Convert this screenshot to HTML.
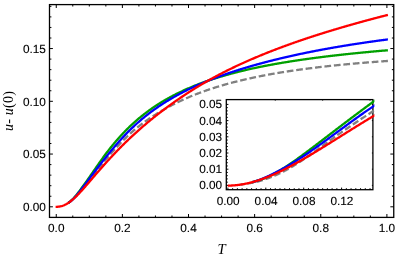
<!DOCTYPE html>
<html><head><meta charset="utf-8"><title>plot</title>
<style>html,body{margin:0;padding:0;background:#fff;}body{width:399px;height:258px;position:relative;overflow:hidden;font-family:"Liberation Sans",sans-serif;}</style>
</head><body>
<svg width="399" height="258" viewBox="0 0 399 258" style="position:absolute;left:0;top:0;will-change:transform">
<rect x="0" y="0" width="399" height="258" fill="#fff"/>
<defs><clipPath id="cm"><rect x="49.5" y="4.6" width="344.25" height="212.8"/></clipPath><clipPath id="ci"><rect x="226.3" y="99.6" width="146.59999999999997" height="90.1"/></clipPath></defs>
<g clip-path="url(#cm)" fill="none" stroke-width="2.3" stroke-linejoin="round">
<path d="M387.90,60.94 L387.35,60.98 L386.79,61.01 L386.24,61.05 L385.68,61.09 L385.13,61.13 L384.57,61.17 L384.02,61.21 L383.46,61.25 L382.91,61.29 L382.35,61.33 L381.80,61.37 L381.24,61.41 L380.69,61.45 L380.13,61.49 L379.58,61.53 L379.02,61.57 L378.47,61.61 L377.91,61.65 L377.36,61.70 L376.80,61.74 L376.25,61.78 L375.70,61.82 L375.14,61.86 L374.59,61.90 L374.03,61.95 L373.48,61.99 L372.92,62.03 L372.37,62.08 L371.81,62.12 L371.26,62.16 L370.70,62.20 L370.15,62.25 L369.59,62.29 L369.04,62.34 L368.48,62.38 L367.93,62.42 L367.37,62.47 L366.82,62.51 L366.26,62.56 L365.71,62.60 L365.15,62.65 L364.60,62.69 L364.05,62.74 L363.49,62.79 L362.94,62.83 L362.38,62.88 L361.83,62.92 L361.27,62.97 L360.72,63.02 L360.16,63.06 L359.61,63.11 L359.05,63.16 L358.50,63.21 L357.94,63.25 L357.39,63.30 L356.83,63.35 L356.28,63.40 L355.72,63.45 L355.17,63.50 L354.61,63.54 L354.06,63.59 L353.51,63.64 L352.95,63.69 L352.40,63.74 L351.84,63.79 L351.29,63.84 L350.73,63.89 L350.18,63.94 L349.62,63.99 L349.07,64.05 L348.51,64.10 L347.96,64.15 L347.40,64.20 L346.85,64.25 L346.29,64.30 L345.74,64.36 L345.18,64.41 L344.63,64.46 L344.07,64.52 L343.52,64.57 L342.96,64.62 L342.41,64.68 L341.86,64.73 L341.30,64.78 L340.75,64.84 L340.19,64.89 L339.64,64.95 L339.08,65.00 L338.53,65.06 L337.97,65.12 L337.42,65.17 L336.86,65.23 L336.31,65.28 L335.75,65.34 L335.20,65.40 L334.64,65.45 L334.09,65.51 L333.53,65.57 L332.98,65.63 L332.42,65.69 L331.87,65.74 L331.31,65.80 L330.76,65.86 L330.21,65.92 L329.65,65.98 L329.10,66.04 L328.54,66.10 L327.99,66.16 L327.43,66.22 L326.88,66.28 L326.32,66.34 L325.77,66.41 L325.21,66.47 L324.66,66.53 L324.10,66.59 L323.55,66.65 L322.99,66.72 L322.44,66.78 L321.88,66.84 L321.33,66.91 L320.77,66.97 L320.22,67.04 L319.66,67.10 L319.11,67.17 L318.56,67.23 L318.00,67.30 L317.45,67.36 L316.89,67.43 L316.34,67.49 L315.78,67.56 L315.23,67.63 L314.67,67.70 L314.12,67.76 L313.56,67.83 L313.01,67.90 L312.45,67.97 L311.90,68.04 L311.34,68.11 L310.79,68.18 L310.23,68.25 L309.68,68.32 L309.12,68.39 L308.57,68.46 L308.01,68.53 L307.46,68.60 L306.91,68.67 L306.35,68.75 L305.80,68.82 L305.24,68.89 L304.69,68.96 L304.13,69.04 L303.58,69.11 L303.02,69.19 L302.47,69.26 L301.91,69.34 L301.36,69.41 L300.80,69.49 L300.25,69.56 L299.69,69.64 L299.14,69.72 L298.58,69.79 L298.03,69.87 L297.47,69.95 L296.92,70.03 L296.36,70.11 L295.81,70.19 L295.26,70.27 L294.70,70.35 L294.15,70.43 L293.59,70.51 L293.04,70.59 L292.48,70.67 L291.93,70.75 L291.37,70.83 L290.82,70.92 L290.26,71.00 L289.71,71.08 L289.15,71.17 L288.60,71.25 L288.04,71.34 L287.49,71.42 L286.93,71.51 L286.38,71.59 L285.82,71.68 L285.27,71.77 L284.72,71.86 L284.16,71.94 L283.61,72.03 L283.05,72.12 L282.50,72.21 L281.94,72.30 L281.39,72.39 L280.83,72.48 L280.28,72.57 L279.72,72.66 L279.17,72.75 L278.61,72.85 L278.06,72.94 L277.50,73.03 L276.95,73.13 L276.39,73.22 L275.84,73.32 L275.28,73.41 L274.73,73.51 L274.17,73.60 L273.62,73.70 L273.07,73.80 L272.51,73.90 L271.96,73.99 L271.40,74.09 L270.85,74.19 L270.29,74.29 L269.74,74.39 L269.18,74.49 L268.63,74.59 L268.07,74.70 L267.52,74.80 L266.96,74.90 L266.41,75.01 L265.85,75.11 L265.30,75.21 L264.74,75.32 L264.19,75.42 L263.63,75.53 L263.08,75.64 L262.52,75.75 L261.97,75.85 L261.42,75.96 L260.86,76.07 L260.31,76.18 L259.75,76.29 L259.20,76.40 L258.64,76.51 L258.09,76.63 L257.53,76.74 L256.98,76.85 L256.42,76.97 L255.87,77.08 L255.31,77.20 L254.76,77.31 L254.20,77.43 L253.65,77.55 L253.09,77.66 L252.54,77.78 L251.98,77.90 L251.43,78.02 L250.87,78.14 L250.32,78.26 L249.77,78.38 L249.21,78.51 L248.66,78.63 L248.10,78.75 L247.55,78.88 L246.99,79.00 L246.44,79.13 L245.88,79.25 L245.33,79.38 L244.77,79.51 L244.22,79.64 L243.66,79.77 L243.11,79.90 L242.55,80.03 L242.00,80.16 L241.44,80.29 L240.89,80.42 L240.33,80.56 L239.78,80.69 L239.22,80.83 L238.67,80.96 L238.12,81.10 L237.56,81.24 L237.01,81.38 L236.45,81.52 L235.90,81.66 L235.34,81.80 L234.79,81.94 L234.23,82.08 L233.68,82.22 L233.12,82.37 L232.57,82.51 L232.01,82.66 L231.46,82.80 L230.90,82.95 L230.35,83.10 L229.79,83.25 L229.24,83.40 L228.68,83.55 L228.13,83.70 L227.57,83.85 L227.02,84.01 L226.47,84.16 L225.91,84.32 L225.36,84.47 L224.80,84.63 L224.25,84.79 L223.69,84.95 L223.14,85.11 L222.58,85.27 L222.03,85.43 L221.47,85.59 L220.92,85.76 L220.36,85.92 L219.81,86.09 L219.25,86.25 L218.70,86.42 L218.14,86.59 L217.59,86.76 L217.03,86.93 L216.48,87.10 L215.93,87.28 L215.37,87.45 L214.82,87.62 L214.26,87.80 L213.71,87.98 L213.15,88.16 L212.60,88.34 L212.04,88.52 L211.49,88.70 L210.93,88.88 L210.38,89.06 L209.82,89.25 L209.27,89.43 L208.71,89.62 L208.16,89.81 L207.60,90.00 L207.05,90.19 L206.49,90.38 L205.94,90.58 L205.38,90.77 L204.83,90.97 L204.28,91.16 L203.72,91.36 L203.17,91.56 L202.61,91.76 L202.06,91.96 L201.50,92.16 L200.95,92.37 L200.39,92.57 L199.84,92.78 L199.28,92.99 L198.73,93.20 L198.17,93.41 L197.62,93.62 L197.06,93.84 L196.51,94.05 L195.95,94.27 L195.40,94.48 L194.84,94.70 L194.29,94.92 L193.73,95.15 L193.18,95.37 L192.63,95.59 L192.07,95.82 L191.52,96.05 L190.96,96.28 L190.41,96.51 L189.85,96.74 L189.30,96.98 L188.74,97.21 L188.19,97.45 L187.63,97.69 L187.08,97.93 L186.52,98.17 L185.97,98.41 L185.41,98.66 L184.86,98.90 L184.30,99.15 L183.75,99.40 L183.19,99.65 L182.64,99.91 L182.08,100.16 L181.53,100.42 L180.98,100.68 L180.42,100.94 L179.87,101.20 L179.31,101.46 L178.76,101.73 L178.20,101.99 L177.65,102.26 L177.09,102.53 L176.54,102.81 L175.98,103.08 L175.43,103.36 L174.87,103.64 L174.32,103.92 L173.76,104.20 L173.21,104.48 L172.65,104.77 L172.10,105.06 L171.54,105.35 L170.99,105.64 L170.43,105.94 L169.88,106.23 L169.33,106.53 L168.77,106.83 L168.22,107.13 L167.66,107.44 L167.11,107.75 L166.55,108.05 L166.00,108.37 L165.44,108.68 L164.89,108.99 L164.33,109.31 L163.78,109.63 L163.22,109.95 L162.67,110.27 L162.11,110.60 L161.56,110.92 L161.00,111.25 L160.45,111.58 L159.89,111.91 L159.34,112.24 L158.78,112.57 L158.23,112.91 L157.68,113.24 L157.12,113.58 L156.57,113.93 L156.01,114.27 L155.46,114.62 L154.90,114.96 L154.35,115.31 L153.79,115.67 L153.24,116.02 L152.68,116.38 L152.13,116.74 L151.57,117.10 L151.02,117.47 L150.46,117.84 L149.91,118.21 L149.35,118.58 L148.80,118.96 L148.24,119.34 L147.69,119.73 L147.14,120.11 L146.58,120.50 L146.03,120.89 L145.47,121.29 L144.92,121.69 L144.36,122.09 L143.81,122.50 L143.25,122.91 L142.70,123.32 L142.14,123.74 L141.59,124.16 L141.03,124.58 L140.48,125.01 L139.92,125.44 L139.37,125.88 L138.81,126.32 L138.26,126.76 L137.70,127.21 L137.15,127.67 L136.59,128.12 L136.04,128.58 L135.49,129.05 L134.93,129.52 L134.38,129.99 L133.82,130.47 L133.27,130.95 L132.71,131.44 L132.16,131.93 L131.60,132.42 L131.05,132.91 L130.49,133.41 L129.94,133.92 L129.38,134.43 L128.83,134.94 L128.27,135.45 L127.72,135.97 L127.16,136.50 L126.61,137.02 L126.05,137.56 L125.50,138.09 L124.94,138.63 L124.39,139.18 L123.84,139.72 L123.28,140.28 L122.73,140.83 L122.17,141.39 L121.62,141.95 L121.06,142.52 L120.51,143.09 L119.95,143.67 L119.40,144.25 L118.84,144.83 L118.29,145.42 L117.73,146.01 L117.18,146.60 L116.62,147.20 L116.07,147.80 L115.51,148.41 L114.96,149.01 L114.40,149.63 L113.85,150.24 L113.29,150.86 L112.74,151.48 L112.19,152.11 L111.63,152.74 L111.08,153.37 L110.52,154.01 L109.97,154.65 L109.41,155.29 L108.86,155.93 L108.30,156.58 L107.75,157.23 L107.19,157.89 L106.64,158.54 L106.08,159.20 L105.53,159.87 L104.97,160.53 L104.42,161.20 L103.86,161.87 L103.31,162.54 L102.75,163.21 L102.20,163.89 L101.64,164.57 L101.09,165.25 L100.54,165.93 L99.98,166.61 L99.43,167.30 L98.87,167.99 L98.32,168.69 L97.76,169.39 L97.21,170.09 L96.65,170.80 L96.10,171.51 L95.54,172.22 L94.99,172.94 L94.43,173.65 L93.88,174.37 L93.32,175.09 L92.77,175.81 L92.21,176.52 L91.66,177.24 L91.10,177.96 L90.55,178.67 L89.99,179.38 L89.44,180.09 L88.89,180.80 L88.33,181.50 L87.78,182.20 L87.22,182.89 L86.67,183.58 L86.11,184.27 L85.56,184.94 L85.00,185.61 L84.45,186.28 L83.89,186.94 L83.34,187.60 L82.78,188.25 L82.23,188.90 L81.67,189.54 L81.12,190.18 L80.56,190.83 L80.01,191.47 L79.45,192.10 L78.90,192.74 L78.35,193.37 L77.79,193.99 L77.24,194.60 L76.68,195.21 L76.13,195.81 L75.57,196.40 L75.02,196.98 L74.46,197.54 L73.91,198.10 L73.35,198.64 L72.80,199.17 L72.24,199.68 L71.69,200.18 L71.13,200.67 L70.58,201.13 L70.02,201.58 L69.47,202.02 L68.91,202.43 L68.36,202.83" stroke="#808080" stroke-dasharray="6.7 2.8"/>
<path d="M68.36,202.86 L68.91,202.46 L69.47,202.04 L70.02,201.61 L70.58,201.15 L71.13,200.66 L71.69,200.16 L72.24,199.64 L72.80,199.09 L73.35,198.52 L73.91,197.94 L74.46,197.33 L75.02,196.70 L75.57,196.05 L76.13,195.38 L76.68,194.70 L77.24,194.00 L77.79,193.28 L78.35,192.55 L78.90,191.81 L79.45,191.06 L80.01,190.31 L80.56,189.55 L81.12,188.79 L81.67,188.04 L82.23,187.29 L82.78,186.53 L83.34,185.77 L83.89,185.01 L84.45,184.23 L85.00,183.46 L85.56,182.68 L86.11,181.89 L86.67,181.10 L87.22,180.31 L87.78,179.52 L88.33,178.72 L88.89,177.92 L89.44,177.13 L89.99,176.32 L90.55,175.52 L91.10,174.72 L91.66,173.92 L92.21,173.11 L92.77,172.31 L93.32,171.51 L93.88,170.71 L94.43,169.90 L94.99,169.10 L95.54,168.30 L96.10,167.50 L96.65,166.71 L97.21,165.91 L97.76,165.11 L98.32,164.32 L98.87,163.53 L99.43,162.74 L99.98,161.96 L100.54,161.17 L101.09,160.39 L101.64,159.62 L102.20,158.84 L102.75,158.07 L103.31,157.30 L103.86,156.54 L104.42,155.78 L104.97,155.03 L105.53,154.28 L106.08,153.53 L106.64,152.80 L107.19,152.06 L107.75,151.33 L108.30,150.61 L108.86,149.89 L109.41,149.18 L109.97,148.47 L110.52,147.78 L111.08,147.08 L111.63,146.40 L112.19,145.72 L112.74,145.05 L113.29,144.38 L113.85,143.71 L114.40,143.05 L114.96,142.39 L115.51,141.74 L116.07,141.09 L116.62,140.45 L117.18,139.81 L117.73,139.18 L118.29,138.55 L118.84,137.93 L119.40,137.31 L119.95,136.69 L120.51,136.08 L121.06,135.48 L121.62,134.87 L122.17,134.28 L122.73,133.69 L123.28,133.10 L123.84,132.52 L124.39,131.94 L124.94,131.36 L125.50,130.80 L126.05,130.23 L126.61,129.67 L127.16,129.12 L127.72,128.57 L128.27,128.02 L128.83,127.48 L129.38,126.95 L129.94,126.41 L130.49,125.89 L131.05,125.36 L131.60,124.84 L132.16,124.33 L132.71,123.82 L133.27,123.31 L133.82,122.81 L134.38,122.31 L134.93,121.81 L135.49,121.32 L136.04,120.84 L136.59,120.35 L137.15,119.88 L137.70,119.40 L138.26,118.93 L138.81,118.46 L139.37,118.00 L139.92,117.54 L140.48,117.08 L141.03,116.63 L141.59,116.18 L142.14,115.74 L142.70,115.30 L143.25,114.86 L143.81,114.42 L144.36,113.99 L144.92,113.56 L145.47,113.14 L146.03,112.72 L146.58,112.30 L147.14,111.88 L147.69,111.47 L148.24,111.07 L148.80,110.66 L149.35,110.26 L149.91,109.86 L150.46,109.46 L151.02,109.07 L151.57,108.68 L152.13,108.30 L152.68,107.91 L153.24,107.53 L153.79,107.15 L154.35,106.78 L154.90,106.41 L155.46,106.04 L156.01,105.67 L156.57,105.31 L157.12,104.95 L157.68,104.59 L158.23,104.23 L158.78,103.88 L159.34,103.53 L159.89,103.18 L160.45,102.84 L161.00,102.50 L161.56,102.16 L162.11,101.82 L162.67,101.48 L163.22,101.15 L163.78,100.82 L164.33,100.50 L164.89,100.17 L165.44,99.85 L166.00,99.53 L166.55,99.21 L167.11,98.89 L167.66,98.58 L168.22,98.27 L168.77,97.96 L169.33,97.65 L169.88,97.35 L170.43,97.05 L170.99,96.75 L171.54,96.45 L172.10,96.16 L172.65,95.86 L173.21,95.57 L173.76,95.28 L174.32,94.99 L174.87,94.71 L175.43,94.42 L175.98,94.14 L176.54,93.86 L177.09,93.59 L177.65,93.31 L178.20,93.04 L178.76,92.77 L179.31,92.50 L179.87,92.23 L180.42,91.96 L180.98,91.70 L181.53,91.44 L182.08,91.18 L182.64,90.92 L183.19,90.66 L183.75,90.41 L184.30,90.15 L184.86,89.90 L185.41,89.65 L185.97,89.40 L186.52,89.16 L187.08,88.91 L187.63,88.67 L188.19,88.42 L188.74,88.18 L189.30,87.95 L189.85,87.71 L190.41,87.47 L190.96,87.24 L191.52,87.01 L192.07,86.78 L192.63,86.55 L193.18,86.32 L193.73,86.09 L194.29,85.87 L194.84,85.65 L195.40,85.42 L195.95,85.20 L196.51,84.99 L197.06,84.77 L197.62,84.55 L198.17,84.34 L198.73,84.12 L199.28,83.91 L199.84,83.70 L200.39,83.49 L200.95,83.28 L201.50,83.08 L202.06,82.87 L202.61,82.67 L203.17,82.47 L203.72,82.26 L204.28,82.06 L204.83,81.86 L205.38,81.67 L205.94,81.47 L206.49,81.28 L207.05,81.08 L207.60,80.89 L208.16,80.70 L208.71,80.51 L209.27,80.32 L209.82,80.13 L210.38,79.94 L210.93,79.76 L211.49,79.57 L212.04,79.39 L212.60,79.21 L213.15,79.02 L213.71,78.84 L214.26,78.67 L214.82,78.49 L215.37,78.31 L215.93,78.13 L216.48,77.96 L217.03,77.79 L217.59,77.61 L218.14,77.44 L218.70,77.27 L219.25,77.10 L219.81,76.93 L220.36,76.76 L220.92,76.60 L221.47,76.43 L222.03,76.27 L222.58,76.10 L223.14,75.94 L223.69,75.78 L224.25,75.62 L224.80,75.46 L225.36,75.30 L225.91,75.14 L226.47,74.98 L227.02,74.83 L227.57,74.67 L228.13,74.52 L228.68,74.36 L229.24,74.21 L229.79,74.06 L230.35,73.91 L230.90,73.76 L231.46,73.61 L232.01,73.46 L232.57,73.31 L233.12,73.16 L233.68,73.02 L234.23,72.87 L234.79,72.73 L235.34,72.58 L235.90,72.44 L236.45,72.30 L237.01,72.16 L237.56,72.02 L238.12,71.88 L238.67,71.74 L239.22,71.60 L239.78,71.46 L240.33,71.33 L240.89,71.19 L241.44,71.05 L242.00,70.92 L242.55,70.79 L243.11,70.65 L243.66,70.52 L244.22,70.39 L244.77,70.26 L245.33,70.13 L245.88,70.00 L246.44,69.87 L246.99,69.74 L247.55,69.61 L248.10,69.49 L248.66,69.36 L249.21,69.23 L249.77,69.11 L250.32,68.98 L250.87,68.86 L251.43,68.74 L251.98,68.62 L252.54,68.49 L253.09,68.37 L253.65,68.25 L254.20,68.13 L254.76,68.01 L255.31,67.89 L255.87,67.78 L256.42,67.66 L256.98,67.54 L257.53,67.43 L258.09,67.31 L258.64,67.20 L259.20,67.08 L259.75,66.97 L260.31,66.85 L260.86,66.74 L261.42,66.63 L261.97,66.52 L262.52,66.41 L263.08,66.30 L263.63,66.19 L264.19,66.08 L264.74,65.97 L265.30,65.86 L265.85,65.75 L266.41,65.64 L266.96,65.54 L267.52,65.43 L268.07,65.32 L268.63,65.22 L269.18,65.11 L269.74,65.01 L270.29,64.91 L270.85,64.80 L271.40,64.70 L271.96,64.60 L272.51,64.50 L273.07,64.39 L273.62,64.29 L274.17,64.19 L274.73,64.09 L275.28,63.99 L275.84,63.89 L276.39,63.80 L276.95,63.70 L277.50,63.60 L278.06,63.50 L278.61,63.41 L279.17,63.31 L279.72,63.21 L280.28,63.12 L280.83,63.02 L281.39,62.93 L281.94,62.84 L282.50,62.74 L283.05,62.65 L283.61,62.56 L284.16,62.46 L284.72,62.37 L285.27,62.28 L285.82,62.19 L286.38,62.10 L286.93,62.01 L287.49,61.92 L288.04,61.83 L288.60,61.74 L289.15,61.65 L289.71,61.56 L290.26,61.47 L290.82,61.39 L291.37,61.30 L291.93,61.21 L292.48,61.13 L293.04,61.04 L293.59,60.95 L294.15,60.87 L294.70,60.78 L295.26,60.70 L295.81,60.62 L296.36,60.53 L296.92,60.45 L297.47,60.37 L298.03,60.28 L298.58,60.20 L299.14,60.12 L299.69,60.04 L300.25,59.95 L300.80,59.87 L301.36,59.79 L301.91,59.71 L302.47,59.63 L303.02,59.55 L303.58,59.47 L304.13,59.39 L304.69,59.32 L305.24,59.24 L305.80,59.16 L306.35,59.08 L306.91,59.00 L307.46,58.93 L308.01,58.85 L308.57,58.77 L309.12,58.70 L309.68,58.62 L310.23,58.55 L310.79,58.47 L311.34,58.40 L311.90,58.32 L312.45,58.25 L313.01,58.17 L313.56,58.10 L314.12,58.03 L314.67,57.95 L315.23,57.88 L315.78,57.81 L316.34,57.73 L316.89,57.66 L317.45,57.59 L318.00,57.52 L318.56,57.45 L319.11,57.38 L319.66,57.31 L320.22,57.24 L320.77,57.17 L321.33,57.10 L321.88,57.03 L322.44,56.96 L322.99,56.89 L323.55,56.82 L324.10,56.75 L324.66,56.68 L325.21,56.61 L325.77,56.55 L326.32,56.48 L326.88,56.41 L327.43,56.34 L327.99,56.28 L328.54,56.21 L329.10,56.14 L329.65,56.08 L330.21,56.01 L330.76,55.95 L331.31,55.88 L331.87,55.82 L332.42,55.75 L332.98,55.69 L333.53,55.62 L334.09,55.56 L334.64,55.49 L335.20,55.43 L335.75,55.37 L336.31,55.30 L336.86,55.24 L337.42,55.18 L337.97,55.12 L338.53,55.05 L339.08,54.99 L339.64,54.93 L340.19,54.87 L340.75,54.81 L341.30,54.74 L341.86,54.68 L342.41,54.62 L342.96,54.56 L343.52,54.50 L344.07,54.44 L344.63,54.38 L345.18,54.32 L345.74,54.26 L346.29,54.20 L346.85,54.14 L347.40,54.08 L347.96,54.03 L348.51,53.97 L349.07,53.91 L349.62,53.85 L350.18,53.79 L350.73,53.73 L351.29,53.68 L351.84,53.62 L352.40,53.56 L352.95,53.50 L353.51,53.45 L354.06,53.39 L354.61,53.33 L355.17,53.28 L355.72,53.22 L356.28,53.17 L356.83,53.11 L357.39,53.05 L357.94,53.00 L358.50,52.94 L359.05,52.89 L359.61,52.83 L360.16,52.78 L360.72,52.72 L361.27,52.67 L361.83,52.62 L362.38,52.56 L362.94,52.51 L363.49,52.45 L364.05,52.40 L364.60,52.35 L365.15,52.29 L365.71,52.24 L366.26,52.19 L366.82,52.13 L367.37,52.08 L367.93,52.03 L368.48,51.98 L369.04,51.92 L369.59,51.87 L370.15,51.82 L370.70,51.77 L371.26,51.72 L371.81,51.67 L372.37,51.62 L372.92,51.56 L373.48,51.51 L374.03,51.46 L374.59,51.41 L375.14,51.36 L375.70,51.31 L376.25,51.26 L376.80,51.21 L377.36,51.16 L377.91,51.11 L378.47,51.06 L379.02,51.01 L379.58,50.96 L380.13,50.91 L380.69,50.86 L381.24,50.82 L381.80,50.77 L382.35,50.72 L382.91,50.67 L383.46,50.62 L384.02,50.57 L384.57,50.53 L385.13,50.48 L385.68,50.43 L386.24,50.38 L386.79,50.33 L387.35,50.29 L387.90,50.24" stroke="#00a000"/>
<path d="M68.36,202.92 L68.91,202.54 L69.47,202.15 L70.02,201.73 L70.58,201.30 L71.13,200.85 L71.69,200.38 L72.24,199.89 L72.80,199.38 L73.35,198.85 L73.91,198.30 L74.46,197.73 L75.02,197.14 L75.57,196.53 L76.13,195.91 L76.68,195.27 L77.24,194.61 L77.79,193.94 L78.35,193.26 L78.90,192.57 L79.45,191.86 L80.01,191.15 L80.56,190.43 L81.12,189.71 L81.67,188.99 L82.23,188.28 L82.78,187.55 L83.34,186.83 L83.89,186.09 L84.45,185.36 L85.00,184.62 L85.56,183.88 L86.11,183.13 L86.67,182.39 L87.22,181.64 L87.78,180.89 L88.33,180.14 L88.89,179.39 L89.44,178.64 L89.99,177.89 L90.55,177.14 L91.10,176.39 L91.66,175.64 L92.21,174.90 L92.77,174.15 L93.32,173.41 L93.88,172.67 L94.43,171.93 L94.99,171.19 L95.54,170.46 L96.10,169.72 L96.65,168.99 L97.21,168.27 L97.76,167.54 L98.32,166.81 L98.87,166.09 L99.43,165.37 L99.98,164.66 L100.54,163.94 L101.09,163.23 L101.64,162.52 L102.20,161.81 L102.75,161.10 L103.31,160.40 L103.86,159.70 L104.42,159.00 L104.97,158.31 L105.53,157.62 L106.08,156.92 L106.64,156.24 L107.19,155.55 L107.75,154.87 L108.30,154.19 L108.86,153.51 L109.41,152.83 L109.97,152.16 L110.52,151.49 L111.08,150.82 L111.63,150.16 L112.19,149.49 L112.74,148.83 L113.29,148.18 L113.85,147.52 L114.40,146.87 L114.96,146.22 L115.51,145.57 L116.07,144.93 L116.62,144.29 L117.18,143.65 L117.73,143.02 L118.29,142.39 L118.84,141.76 L119.40,141.14 L119.95,140.52 L120.51,139.91 L121.06,139.29 L121.62,138.69 L122.17,138.08 L122.73,137.48 L123.28,136.88 L123.84,136.29 L124.39,135.70 L124.94,135.11 L125.50,134.53 L126.05,133.95 L126.61,133.38 L127.16,132.81 L127.72,132.24 L128.27,131.68 L128.83,131.13 L129.38,130.57 L129.94,130.02 L130.49,129.48 L131.05,128.94 L131.60,128.40 L132.16,127.87 L132.71,127.34 L133.27,126.82 L133.82,126.30 L134.38,125.78 L134.93,125.27 L135.49,124.76 L136.04,124.25 L136.59,123.75 L137.15,123.25 L137.70,122.76 L138.26,122.27 L138.81,121.78 L139.37,121.30 L139.92,120.82 L140.48,120.35 L141.03,119.87 L141.59,119.41 L142.14,118.94 L142.70,118.48 L143.25,118.02 L143.81,117.56 L144.36,117.11 L144.92,116.66 L145.47,116.22 L146.03,115.78 L146.58,115.34 L147.14,114.90 L147.69,114.47 L148.24,114.04 L148.80,113.61 L149.35,113.19 L149.91,112.77 L150.46,112.35 L151.02,111.93 L151.57,111.52 L152.13,111.11 L152.68,110.71 L153.24,110.30 L153.79,109.90 L154.35,109.51 L154.90,109.11 L155.46,108.72 L156.01,108.33 L156.57,107.94 L157.12,107.56 L157.68,107.18 L158.23,106.80 L158.78,106.42 L159.34,106.05 L159.89,105.67 L160.45,105.31 L161.00,104.94 L161.56,104.57 L162.11,104.21 L162.67,103.85 L163.22,103.50 L163.78,103.14 L164.33,102.79 L164.89,102.44 L165.44,102.09 L166.00,101.75 L166.55,101.40 L167.11,101.06 L167.66,100.72 L168.22,100.39 L168.77,100.05 L169.33,99.72 L169.88,99.39 L170.43,99.06 L170.99,98.73 L171.54,98.41 L172.10,98.09 L172.65,97.77 L173.21,97.45 L173.76,97.13 L174.32,96.82 L174.87,96.51 L175.43,96.20 L175.98,95.89 L176.54,95.58 L177.09,95.28 L177.65,94.98 L178.20,94.67 L178.76,94.38 L179.31,94.08 L179.87,93.78 L180.42,93.49 L180.98,93.20 L181.53,92.91 L182.08,92.62 L182.64,92.33 L183.19,92.04 L183.75,91.76 L184.30,91.48 L184.86,91.20 L185.41,90.92 L185.97,90.64 L186.52,90.37 L187.08,90.09 L187.63,89.82 L188.19,89.55 L188.74,89.28 L189.30,89.01 L189.85,88.75 L190.41,88.48 L190.96,88.22 L191.52,87.96 L192.07,87.70 L192.63,87.44 L193.18,87.18 L193.73,86.92 L194.29,86.67 L194.84,86.42 L195.40,86.16 L195.95,85.91 L196.51,85.66 L197.06,85.42 L197.62,85.17 L198.17,84.92 L198.73,84.68 L199.28,84.44 L199.84,84.19 L200.39,83.95 L200.95,83.72 L201.50,83.48 L202.06,83.24 L202.61,83.01 L203.17,82.77 L203.72,82.54 L204.28,82.31 L204.83,82.08 L205.38,81.85 L205.94,81.62 L206.49,81.39 L207.05,81.17 L207.60,80.94 L208.16,80.72 L208.71,80.50 L209.27,80.27 L209.82,80.05 L210.38,79.83 L210.93,79.62 L211.49,79.40 L212.04,79.18 L212.60,78.97 L213.15,78.75 L213.71,78.54 L214.26,78.33 L214.82,78.12 L215.37,77.91 L215.93,77.70 L216.48,77.49 L217.03,77.28 L217.59,77.08 L218.14,76.87 L218.70,76.67 L219.25,76.46 L219.81,76.26 L220.36,76.06 L220.92,75.86 L221.47,75.66 L222.03,75.46 L222.58,75.27 L223.14,75.07 L223.69,74.87 L224.25,74.68 L224.80,74.48 L225.36,74.29 L225.91,74.10 L226.47,73.91 L227.02,73.71 L227.57,73.52 L228.13,73.34 L228.68,73.15 L229.24,72.96 L229.79,72.77 L230.35,72.59 L230.90,72.40 L231.46,72.22 L232.01,72.03 L232.57,71.85 L233.12,71.67 L233.68,71.49 L234.23,71.31 L234.79,71.13 L235.34,70.95 L235.90,70.77 L236.45,70.59 L237.01,70.42 L237.56,70.24 L238.12,70.06 L238.67,69.89 L239.22,69.71 L239.78,69.54 L240.33,69.37 L240.89,69.20 L241.44,69.03 L242.00,68.86 L242.55,68.69 L243.11,68.52 L243.66,68.35 L244.22,68.18 L244.77,68.01 L245.33,67.85 L245.88,67.68 L246.44,67.51 L246.99,67.35 L247.55,67.18 L248.10,67.02 L248.66,66.86 L249.21,66.70 L249.77,66.53 L250.32,66.37 L250.87,66.21 L251.43,66.05 L251.98,65.89 L252.54,65.73 L253.09,65.58 L253.65,65.42 L254.20,65.26 L254.76,65.11 L255.31,64.95 L255.87,64.79 L256.42,64.64 L256.98,64.48 L257.53,64.33 L258.09,64.18 L258.64,64.03 L259.20,63.87 L259.75,63.72 L260.31,63.57 L260.86,63.42 L261.42,63.27 L261.97,63.12 L262.52,62.97 L263.08,62.83 L263.63,62.68 L264.19,62.53 L264.74,62.38 L265.30,62.24 L265.85,62.09 L266.41,61.95 L266.96,61.80 L267.52,61.66 L268.07,61.51 L268.63,61.37 L269.18,61.23 L269.74,61.09 L270.29,60.95 L270.85,60.80 L271.40,60.66 L271.96,60.52 L272.51,60.38 L273.07,60.25 L273.62,60.11 L274.17,59.97 L274.73,59.83 L275.28,59.69 L275.84,59.56 L276.39,59.42 L276.95,59.29 L277.50,59.15 L278.06,59.02 L278.61,58.88 L279.17,58.75 L279.72,58.61 L280.28,58.48 L280.83,58.35 L281.39,58.22 L281.94,58.09 L282.50,57.95 L283.05,57.82 L283.61,57.69 L284.16,57.56 L284.72,57.44 L285.27,57.31 L285.82,57.18 L286.38,57.05 L286.93,56.92 L287.49,56.80 L288.04,56.67 L288.60,56.54 L289.15,56.42 L289.71,56.29 L290.26,56.17 L290.82,56.04 L291.37,55.92 L291.93,55.79 L292.48,55.67 L293.04,55.55 L293.59,55.43 L294.15,55.30 L294.70,55.18 L295.26,55.06 L295.81,54.94 L296.36,54.82 L296.92,54.70 L297.47,54.58 L298.03,54.46 L298.58,54.34 L299.14,54.22 L299.69,54.11 L300.25,53.99 L300.80,53.87 L301.36,53.75 L301.91,53.64 L302.47,53.52 L303.02,53.41 L303.58,53.29 L304.13,53.18 L304.69,53.06 L305.24,52.95 L305.80,52.83 L306.35,52.72 L306.91,52.61 L307.46,52.49 L308.01,52.38 L308.57,52.27 L309.12,52.16 L309.68,52.05 L310.23,51.94 L310.79,51.83 L311.34,51.72 L311.90,51.61 L312.45,51.50 L313.01,51.39 L313.56,51.28 L314.12,51.17 L314.67,51.06 L315.23,50.95 L315.78,50.85 L316.34,50.74 L316.89,50.63 L317.45,50.53 L318.00,50.42 L318.56,50.32 L319.11,50.21 L319.66,50.11 L320.22,50.00 L320.77,49.90 L321.33,49.79 L321.88,49.69 L322.44,49.59 L322.99,49.48 L323.55,49.38 L324.10,49.28 L324.66,49.18 L325.21,49.07 L325.77,48.97 L326.32,48.87 L326.88,48.77 L327.43,48.67 L327.99,48.57 L328.54,48.47 L329.10,48.37 L329.65,48.27 L330.21,48.17 L330.76,48.08 L331.31,47.98 L331.87,47.88 L332.42,47.78 L332.98,47.69 L333.53,47.59 L334.09,47.49 L334.64,47.40 L335.20,47.30 L335.75,47.20 L336.31,47.11 L336.86,47.01 L337.42,46.92 L337.97,46.82 L338.53,46.73 L339.08,46.64 L339.64,46.54 L340.19,46.45 L340.75,46.36 L341.30,46.26 L341.86,46.17 L342.41,46.08 L342.96,45.99 L343.52,45.90 L344.07,45.80 L344.63,45.71 L345.18,45.62 L345.74,45.53 L346.29,45.44 L346.85,45.35 L347.40,45.26 L347.96,45.17 L348.51,45.08 L349.07,45.00 L349.62,44.91 L350.18,44.82 L350.73,44.73 L351.29,44.64 L351.84,44.56 L352.40,44.47 L352.95,44.38 L353.51,44.29 L354.06,44.21 L354.61,44.12 L355.17,44.04 L355.72,43.95 L356.28,43.87 L356.83,43.78 L357.39,43.70 L357.94,43.61 L358.50,43.53 L359.05,43.44 L359.61,43.36 L360.16,43.28 L360.72,43.19 L361.27,43.11 L361.83,43.03 L362.38,42.94 L362.94,42.86 L363.49,42.78 L364.05,42.70 L364.60,42.62 L365.15,42.54 L365.71,42.45 L366.26,42.37 L366.82,42.29 L367.37,42.21 L367.93,42.13 L368.48,42.05 L369.04,41.97 L369.59,41.89 L370.15,41.82 L370.70,41.74 L371.26,41.66 L371.81,41.58 L372.37,41.50 L372.92,41.42 L373.48,41.35 L374.03,41.27 L374.59,41.19 L375.14,41.11 L375.70,41.04 L376.25,40.96 L376.80,40.88 L377.36,40.81 L377.91,40.73 L378.47,40.66 L379.02,40.58 L379.58,40.51 L380.13,40.43 L380.69,40.36 L381.24,40.28 L381.80,40.21 L382.35,40.13 L382.91,40.06 L383.46,39.99 L384.02,39.91 L384.57,39.84 L385.13,39.77 L385.68,39.69 L386.24,39.62 L386.79,39.55 L387.35,39.48 L387.90,39.41" stroke="#0000ff"/>
<path d="M55.60,206.85 L56.15,206.85 L56.71,206.83 L57.26,206.81 L57.82,206.77 L58.37,206.72 L58.93,206.66 L59.48,206.58 L60.04,206.48 L60.59,206.37 L61.15,206.24 L61.70,206.09 L62.26,205.92 L62.81,205.73 L63.37,205.53 L63.92,205.31 L64.48,205.07 L65.03,204.81 L65.59,204.53 L66.14,204.24 L66.70,203.93 L67.25,203.60 L67.80,203.26 L68.36,202.90 L68.91,202.52 L69.47,202.13 L70.02,201.72 L70.58,201.30 L71.13,200.87 L71.69,200.42 L72.24,199.96 L72.80,199.49 L73.35,199.00 L73.91,198.51 L74.46,198.00 L75.02,197.48 L75.57,196.96 L76.13,196.42 L76.68,195.87 L77.24,195.32 L77.79,194.75 L78.35,194.18 L78.90,193.61 L79.45,193.02 L80.01,192.43 L80.56,191.83 L81.12,191.23 L81.67,190.62 L82.23,190.01 L82.78,189.39 L83.34,188.77 L83.89,188.14 L84.45,187.51 L85.00,186.88 L85.56,186.24 L86.11,185.60 L86.67,184.96 L87.22,184.32 L87.78,183.68 L88.33,183.03 L88.89,182.39 L89.44,181.74 L89.99,181.09 L90.55,180.44 L91.10,179.79 L91.66,179.14 L92.21,178.49 L92.77,177.85 L93.32,177.20 L93.88,176.55 L94.43,175.91 L94.99,175.26 L95.54,174.62 L96.10,173.98 L96.65,173.33 L97.21,172.69 L97.76,172.05 L98.32,171.42 L98.87,170.78 L99.43,170.15 L99.98,169.51 L100.54,168.88 L101.09,168.25 L101.64,167.62 L102.20,166.99 L102.75,166.37 L103.31,165.75 L103.86,165.12 L104.42,164.50 L104.97,163.89 L105.53,163.27 L106.08,162.66 L106.64,162.04 L107.19,161.43 L107.75,160.82 L108.30,160.22 L108.86,159.61 L109.41,159.01 L109.97,158.41 L110.52,157.81 L111.08,157.21 L111.63,156.62 L112.19,156.03 L112.74,155.44 L113.29,154.85 L113.85,154.26 L114.40,153.68 L114.96,153.10 L115.51,152.52 L116.07,151.94 L116.62,151.37 L117.18,150.79 L117.73,150.22 L118.29,149.65 L118.84,149.09 L119.40,148.52 L119.95,147.96 L120.51,147.40 L121.06,146.84 L121.62,146.28 L122.17,145.73 L122.73,145.18 L123.28,144.63 L123.84,144.08 L124.39,143.53 L124.94,142.99 L125.50,142.45 L126.05,141.91 L126.61,141.37 L127.16,140.84 L127.72,140.31 L128.27,139.78 L128.83,139.25 L129.38,138.72 L129.94,138.20 L130.49,137.67 L131.05,137.15 L131.60,136.63 L132.16,136.12 L132.71,135.60 L133.27,135.09 L133.82,134.58 L134.38,134.07 L134.93,133.57 L135.49,133.06 L136.04,132.56 L136.59,132.06 L137.15,131.56 L137.70,131.07 L138.26,130.57 L138.81,130.08 L139.37,129.59 L139.92,129.10 L140.48,128.61 L141.03,128.13 L141.59,127.64 L142.14,127.16 L142.70,126.68 L143.25,126.21 L143.81,125.73 L144.36,125.26 L144.92,124.78 L145.47,124.31 L146.03,123.84 L146.58,123.38 L147.14,122.91 L147.69,122.45 L148.24,121.99 L148.80,121.53 L149.35,121.07 L149.91,120.61 L150.46,120.16 L151.02,119.70 L151.57,119.25 L152.13,118.80 L152.68,118.35 L153.24,117.91 L153.79,117.46 L154.35,117.02 L154.90,116.58 L155.46,116.14 L156.01,115.70 L156.57,115.26 L157.12,114.83 L157.68,114.39 L158.23,113.96 L158.78,113.53 L159.34,113.10 L159.89,112.67 L160.45,112.25 L161.00,111.82 L161.56,111.40 L162.11,110.97 L162.67,110.55 L163.22,110.14 L163.78,109.72 L164.33,109.30 L164.89,108.89 L165.44,108.47 L166.00,108.06 L166.55,107.65 L167.11,107.24 L167.66,106.83 L168.22,106.43 L168.77,106.02 L169.33,105.62 L169.88,105.22 L170.43,104.82 L170.99,104.42 L171.54,104.02 L172.10,103.62 L172.65,103.22 L173.21,102.83 L173.76,102.44 L174.32,102.05 L174.87,101.65 L175.43,101.27 L175.98,100.88 L176.54,100.49 L177.09,100.11 L177.65,99.72 L178.20,99.34 L178.76,98.96 L179.31,98.58 L179.87,98.20 L180.42,97.82 L180.98,97.45 L181.53,97.07 L182.08,96.70 L182.64,96.33 L183.19,95.96 L183.75,95.59 L184.30,95.22 L184.86,94.85 L185.41,94.49 L185.97,94.13 L186.52,93.76 L187.08,93.40 L187.63,93.04 L188.19,92.68 L188.74,92.33 L189.30,91.97 L189.85,91.61 L190.41,91.26 L190.96,90.91 L191.52,90.56 L192.07,90.21 L192.63,89.86 L193.18,89.51 L193.73,89.17 L194.29,88.82 L194.84,88.48 L195.40,88.14 L195.95,87.80 L196.51,87.46 L197.06,87.12 L197.62,86.78 L198.17,86.45 L198.73,86.11 L199.28,85.78 L199.84,85.45 L200.39,85.12 L200.95,84.79 L201.50,84.46 L202.06,84.13 L202.61,83.81 L203.17,83.48 L203.72,83.16 L204.28,82.84 L204.83,82.52 L205.38,82.20 L205.94,81.88 L206.49,81.56 L207.05,81.25 L207.60,80.93 L208.16,80.62 L208.71,80.31 L209.27,80.00 L209.82,79.69 L210.38,79.38 L210.93,79.07 L211.49,78.76 L212.04,78.46 L212.60,78.15 L213.15,77.85 L213.71,77.55 L214.26,77.25 L214.82,76.95 L215.37,76.65 L215.93,76.35 L216.48,76.06 L217.03,75.76 L217.59,75.47 L218.14,75.18 L218.70,74.88 L219.25,74.59 L219.81,74.30 L220.36,74.01 L220.92,73.73 L221.47,73.44 L222.03,73.15 L222.58,72.87 L223.14,72.59 L223.69,72.30 L224.25,72.02 L224.80,71.74 L225.36,71.46 L225.91,71.18 L226.47,70.90 L227.02,70.63 L227.57,70.35 L228.13,70.08 L228.68,69.80 L229.24,69.53 L229.79,69.26 L230.35,68.99 L230.90,68.71 L231.46,68.45 L232.01,68.18 L232.57,67.91 L233.12,67.64 L233.68,67.38 L234.23,67.11 L234.79,66.85 L235.34,66.58 L235.90,66.32 L236.45,66.06 L237.01,65.80 L237.56,65.54 L238.12,65.28 L238.67,65.02 L239.22,64.76 L239.78,64.51 L240.33,64.25 L240.89,64.00 L241.44,63.74 L242.00,63.49 L242.55,63.24 L243.11,62.99 L243.66,62.73 L244.22,62.48 L244.77,62.24 L245.33,61.99 L245.88,61.74 L246.44,61.49 L246.99,61.25 L247.55,61.00 L248.10,60.76 L248.66,60.51 L249.21,60.27 L249.77,60.03 L250.32,59.78 L250.87,59.54 L251.43,59.30 L251.98,59.06 L252.54,58.82 L253.09,58.59 L253.65,58.35 L254.20,58.11 L254.76,57.88 L255.31,57.64 L255.87,57.41 L256.42,57.17 L256.98,56.94 L257.53,56.71 L258.09,56.47 L258.64,56.24 L259.20,56.01 L259.75,55.78 L260.31,55.55 L260.86,55.32 L261.42,55.10 L261.97,54.87 L262.52,54.64 L263.08,54.42 L263.63,54.19 L264.19,53.97 L264.74,53.74 L265.30,53.52 L265.85,53.30 L266.41,53.07 L266.96,52.85 L267.52,52.63 L268.07,52.41 L268.63,52.19 L269.18,51.97 L269.74,51.75 L270.29,51.54 L270.85,51.32 L271.40,51.10 L271.96,50.88 L272.51,50.67 L273.07,50.45 L273.62,50.24 L274.17,50.03 L274.73,49.81 L275.28,49.60 L275.84,49.39 L276.39,49.18 L276.95,48.97 L277.50,48.75 L278.06,48.54 L278.61,48.34 L279.17,48.13 L279.72,47.92 L280.28,47.71 L280.83,47.50 L281.39,47.30 L281.94,47.09 L282.50,46.88 L283.05,46.68 L283.61,46.47 L284.16,46.27 L284.72,46.07 L285.27,45.86 L285.82,45.66 L286.38,45.46 L286.93,45.26 L287.49,45.06 L288.04,44.86 L288.60,44.66 L289.15,44.46 L289.71,44.26 L290.26,44.06 L290.82,43.86 L291.37,43.66 L291.93,43.47 L292.48,43.27 L293.04,43.07 L293.59,42.88 L294.15,42.68 L294.70,42.49 L295.26,42.29 L295.81,42.10 L296.36,41.91 L296.92,41.71 L297.47,41.52 L298.03,41.33 L298.58,41.14 L299.14,40.95 L299.69,40.76 L300.25,40.57 L300.80,40.38 L301.36,40.19 L301.91,40.00 L302.47,39.81 L303.02,39.62 L303.58,39.43 L304.13,39.25 L304.69,39.06 L305.24,38.87 L305.80,38.69 L306.35,38.50 L306.91,38.32 L307.46,38.13 L308.01,37.95 L308.57,37.77 L309.12,37.58 L309.68,37.40 L310.23,37.22 L310.79,37.03 L311.34,36.85 L311.90,36.67 L312.45,36.49 L313.01,36.31 L313.56,36.13 L314.12,35.95 L314.67,35.77 L315.23,35.59 L315.78,35.41 L316.34,35.24 L316.89,35.06 L317.45,34.88 L318.00,34.70 L318.56,34.53 L319.11,34.35 L319.66,34.17 L320.22,34.00 L320.77,33.82 L321.33,33.65 L321.88,33.47 L322.44,33.30 L322.99,33.13 L323.55,32.95 L324.10,32.78 L324.66,32.61 L325.21,32.43 L325.77,32.26 L326.32,32.09 L326.88,31.92 L327.43,31.75 L327.99,31.58 L328.54,31.41 L329.10,31.24 L329.65,31.07 L330.21,30.90 L330.76,30.73 L331.31,30.56 L331.87,30.39 L332.42,30.23 L332.98,30.06 L333.53,29.89 L334.09,29.72 L334.64,29.56 L335.20,29.39 L335.75,29.23 L336.31,29.06 L336.86,28.90 L337.42,28.73 L337.97,28.57 L338.53,28.40 L339.08,28.24 L339.64,28.07 L340.19,27.91 L340.75,27.75 L341.30,27.58 L341.86,27.42 L342.41,27.26 L342.96,27.10 L343.52,26.94 L344.07,26.78 L344.63,26.61 L345.18,26.45 L345.74,26.29 L346.29,26.13 L346.85,25.97 L347.40,25.81 L347.96,25.66 L348.51,25.50 L349.07,25.34 L349.62,25.18 L350.18,25.02 L350.73,24.86 L351.29,24.71 L351.84,24.55 L352.40,24.39 L352.95,24.24 L353.51,24.08 L354.06,23.92 L354.61,23.77 L355.17,23.61 L355.72,23.46 L356.28,23.30 L356.83,23.15 L357.39,22.99 L357.94,22.84 L358.50,22.69 L359.05,22.53 L359.61,22.38 L360.16,22.23 L360.72,22.07 L361.27,21.92 L361.83,21.77 L362.38,21.62 L362.94,21.46 L363.49,21.31 L364.05,21.16 L364.60,21.01 L365.15,20.86 L365.71,20.71 L366.26,20.56 L366.82,20.41 L367.37,20.26 L367.93,20.11 L368.48,19.96 L369.04,19.81 L369.59,19.66 L370.15,19.52 L370.70,19.37 L371.26,19.22 L371.81,19.07 L372.37,18.92 L372.92,18.78 L373.48,18.63 L374.03,18.48 L374.59,18.34 L375.14,18.19 L375.70,18.04 L376.25,17.90 L376.80,17.75 L377.36,17.61 L377.91,17.46 L378.47,17.32 L379.02,17.17 L379.58,17.03 L380.13,16.88 L380.69,16.74 L381.24,16.60 L381.80,16.45 L382.35,16.31 L382.91,16.17 L383.46,16.02 L384.02,15.88 L384.57,15.74 L385.13,15.60 L385.68,15.45 L386.24,15.31 L386.79,15.17 L387.35,15.03 L387.90,14.89" stroke="#ff0000"/>
</g>
<rect x="49.5" y="4.6" width="344.25" height="212.8" fill="none" stroke="#000" stroke-width="1.3"/>
<path d="M56.25,217.4 v-3.4 M56.25,4.6 v3.4 M72.78,217.4 v-1.9 M72.78,4.6 v1.9 M89.31,217.4 v-1.9 M89.31,4.6 v1.9 M105.85,217.4 v-1.9 M105.85,4.6 v1.9 M122.38,217.4 v-3.4 M122.38,4.6 v3.4 M138.91,217.4 v-1.9 M138.91,4.6 v1.9 M155.44,217.4 v-1.9 M155.44,4.6 v1.9 M171.98,217.4 v-1.9 M171.98,4.6 v1.9 M188.51,217.4 v-3.4 M188.51,4.6 v3.4 M205.04,217.4 v-1.9 M205.04,4.6 v1.9 M221.57,217.4 v-1.9 M221.57,4.6 v1.9 M238.11,217.4 v-1.9 M238.11,4.6 v1.9 M254.64,217.4 v-3.4 M254.64,4.6 v3.4 M271.17,217.4 v-1.9 M271.17,4.6 v1.9 M287.71,217.4 v-1.9 M287.71,4.6 v1.9 M304.24,217.4 v-1.9 M304.24,4.6 v1.9 M320.77,217.4 v-3.4 M320.77,4.6 v3.4 M337.30,217.4 v-1.9 M337.30,4.6 v1.9 M353.83,217.4 v-1.9 M353.83,4.6 v1.9 M370.37,217.4 v-1.9 M370.37,4.6 v1.9 M386.90,217.4 v-3.4 M386.90,4.6 v3.4 M49.5,206.80 h3.4 M393.75,206.80 h-3.4 M49.5,196.25 h1.9 M393.75,196.25 h-1.9 M49.5,185.70 h1.9 M393.75,185.70 h-1.9 M49.5,175.15 h1.9 M393.75,175.15 h-1.9 M49.5,164.60 h1.9 M393.75,164.60 h-1.9 M49.5,154.05 h3.4 M393.75,154.05 h-3.4 M49.5,143.50 h1.9 M393.75,143.50 h-1.9 M49.5,132.95 h1.9 M393.75,132.95 h-1.9 M49.5,122.40 h1.9 M393.75,122.40 h-1.9 M49.5,111.85 h1.9 M393.75,111.85 h-1.9 M49.5,101.30 h3.4 M393.75,101.30 h-3.4 M49.5,90.75 h1.9 M393.75,90.75 h-1.9 M49.5,80.20 h1.9 M393.75,80.20 h-1.9 M49.5,69.65 h1.9 M393.75,69.65 h-1.9 M49.5,59.10 h1.9 M393.75,59.10 h-1.9 M49.5,48.55 h3.4 M393.75,48.55 h-3.4 M49.5,38.00 h1.9 M393.75,38.00 h-1.9 M49.5,27.45 h1.9 M393.75,27.45 h-1.9 M49.5,16.90 h1.9 M393.75,16.90 h-1.9 M49.5,6.35 h1.9 M393.75,6.35 h-1.9" stroke="#000" stroke-width="1.0" fill="none"/>
<rect x="226.3" y="99.6" width="146.59999999999997" height="90.1" fill="none" stroke="#000" stroke-width="1.3"/>
<path d="M227.90,189.7 v-2.1 M232.64,189.7 v-1.5 M237.38,189.7 v-1.5 M242.11,189.7 v-1.5 M246.85,189.7 v-1.5 M251.59,189.7 v-1.5 M256.32,189.7 v-1.5 M261.06,189.7 v-1.5 M265.80,189.7 v-2.1 M270.54,189.7 v-1.5 M275.27,189.7 v-1.5 M275.27,99.6 v1.0 M280.01,189.7 v-1.5 M284.75,189.7 v-1.5 M289.49,189.7 v-1.5 M294.23,189.7 v-1.5 M298.96,189.7 v-1.5 M303.70,189.7 v-2.1 M308.44,189.7 v-1.5 M313.18,189.7 v-1.5 M317.91,189.7 v-1.5 M322.65,189.7 v-1.5 M322.65,99.6 v1.0 M327.39,189.7 v-1.5 M332.12,189.7 v-1.5 M336.86,189.7 v-1.5 M341.60,189.7 v-2.1 M346.34,189.7 v-1.5 M351.07,189.7 v-1.5 M355.81,189.7 v-1.5 M360.55,189.7 v-1.5 M365.29,189.7 v-1.5 M370.02,189.7 v-1.5 M370.02,99.6 v1.0 M226.3,185.40 h2.1 M372.9,185.40 h-1.0 M226.3,182.16 h1.5 M226.3,178.92 h1.5 M226.3,175.68 h1.5 M226.3,172.44 h1.5 M226.3,169.20 h2.1 M372.9,169.20 h-1.0 M226.3,165.96 h1.5 M226.3,162.72 h1.5 M226.3,159.48 h1.5 M226.3,156.24 h1.5 M226.3,153.00 h2.1 M372.9,153.00 h-1.0 M226.3,149.76 h1.5 M226.3,146.52 h1.5 M226.3,143.28 h1.5 M226.3,140.04 h1.5 M226.3,136.80 h2.1 M372.9,136.80 h-1.0 M226.3,133.56 h1.5 M226.3,130.32 h1.5 M226.3,127.08 h1.5 M226.3,123.84 h1.5 M226.3,120.60 h2.1 M372.9,120.60 h-1.0 M226.3,117.36 h1.5 M226.3,114.12 h1.5 M226.3,110.88 h1.5 M226.3,107.64 h1.5 M226.3,104.40 h2.1 M372.9,104.40 h-1.0" stroke="#000" stroke-width="1.0" fill="none"/>
<defs><clipPath id="ci2"><rect x="226.3" y="98.6" width="148.09999999999997" height="91.1"/></clipPath></defs>
<g clip-path="url(#ci2)" fill="none" stroke-width="2.3" stroke-linejoin="round">
<path d="M240.34,184.66 L240.71,184.60 L241.08,184.55 L241.45,184.50 L241.82,184.44 L242.19,184.39 L242.56,184.33 L242.93,184.28 L243.30,184.22 L243.67,184.17 L244.04,184.11 L244.41,184.05 L244.78,183.99 L245.15,183.94 L245.52,183.88 L245.89,183.82 L246.27,183.76 L246.64,183.70 L247.01,183.64 L247.38,183.58 L247.75,183.52 L248.12,183.46 L248.49,183.40 L248.86,183.34 L249.23,183.28 L249.60,183.22 L249.97,183.16 L250.34,183.09 L250.71,183.03 L251.08,182.97 L251.45,182.90 L251.82,182.83 L252.19,182.77 L252.56,182.70 L252.93,182.63 L253.30,182.56 L253.67,182.49 L254.04,182.41 L254.41,182.34 L254.78,182.26 L255.15,182.18 L255.52,182.10 L255.89,182.01 L256.26,181.93 L256.63,181.84 L257.00,181.75 L257.37,181.65 L257.74,181.56 L258.11,181.45 L258.48,181.35 L258.86,181.25 L259.23,181.14 L259.60,181.04 L259.97,180.93 L260.34,180.82 L260.71,180.71 L261.08,180.60 L261.45,180.49 L261.82,180.37 L262.19,180.26 L262.56,180.14 L262.93,180.02 L263.30,179.90 L263.67,179.78 L264.04,179.66 L264.41,179.54 L264.78,179.41 L265.15,179.29 L265.52,179.16 L265.89,179.03 L266.26,178.90 L266.63,178.77 L267.00,178.64 L267.37,178.51 L267.74,178.37 L268.11,178.24 L268.48,178.10 L268.85,177.96 L269.22,177.82 L269.59,177.68 L269.96,177.54 L270.33,177.40 L270.70,177.25 L271.08,177.11 L271.45,176.96 L271.82,176.81 L272.19,176.66 L272.56,176.51 L272.93,176.36 L273.30,176.20 L273.67,176.05 L274.04,175.89 L274.41,175.73 L274.78,175.58 L275.15,175.41 L275.52,175.25 L275.89,175.09 L276.26,174.93 L276.63,174.76 L277.00,174.59 L277.37,174.43 L277.74,174.26 L278.11,174.09 L278.48,173.91 L278.85,173.74 L279.22,173.57 L279.59,173.39 L279.96,173.21 L280.33,173.04 L280.70,172.86 L281.07,172.67 L281.44,172.49 L281.81,172.31 L282.18,172.12 L282.55,171.94 L282.92,171.75 L283.30,171.56 L283.67,171.37 L284.04,171.18 L284.41,170.99 L284.78,170.79 L285.15,170.60 L285.52,170.40 L285.89,170.20 L286.26,170.00 L286.63,169.80 L287.00,169.60 L287.37,169.40 L287.74,169.19 L288.11,168.99 L288.48,168.78 L288.85,168.57 L289.22,168.36 L289.59,168.15 L289.96,167.94 L290.33,167.73 L290.70,167.51 L291.07,167.30 L291.44,167.08 L291.81,166.86 L292.18,166.64 L292.55,166.42 L292.92,166.20 L293.29,165.98 L293.66,165.76 L294.03,165.53 L294.40,165.31 L294.77,165.08 L295.14,164.85 L295.52,164.62 L295.89,164.39 L296.26,164.16 L296.63,163.93 L297.00,163.70 L297.37,163.46 L297.74,163.23 L298.11,162.99 L298.48,162.75 L298.85,162.51 L299.22,162.27 L299.59,162.03 L299.96,161.79 L300.33,161.55 L300.70,161.31 L301.07,161.06 L301.44,160.82 L301.81,160.57 L302.18,160.33 L302.55,160.08 L302.92,159.83 L303.29,159.58 L303.66,159.33 L304.03,159.08 L304.40,158.83 L304.77,158.57 L305.14,158.32 L305.51,158.07 L305.88,157.81 L306.25,157.56 L306.62,157.30 L306.99,157.04 L307.36,156.79 L307.73,156.53 L308.11,156.27 L308.48,156.01 L308.85,155.75 L309.22,155.49 L309.59,155.23 L309.96,154.97 L310.33,154.70 L310.70,154.44 L311.07,154.18 L311.44,153.91 L311.81,153.65 L312.18,153.38 L312.55,153.12 L312.92,152.85 L313.29,152.58 L313.66,152.32 L314.03,152.05 L314.40,151.78 L314.77,151.52 L315.14,151.25 L315.51,150.98 L315.88,150.71 L316.25,150.44 L316.62,150.17 L316.99,149.90 L317.36,149.63 L317.73,149.36 L318.10,149.09 L318.47,148.82 L318.84,148.55 L319.21,148.28 L319.58,148.01 L319.95,147.74 L320.33,147.47 L320.70,147.20 L321.07,146.93 L321.44,146.65 L321.81,146.38 L322.18,146.11 L322.55,145.84 L322.92,145.57 L323.29,145.30 L323.66,145.03 L324.03,144.76 L324.40,144.49 L324.77,144.22 L325.14,143.95 L325.51,143.68 L325.88,143.41 L326.25,143.14 L326.62,142.87 L326.99,142.60 L327.36,142.33 L327.73,142.06 L328.10,141.80 L328.47,141.53 L328.84,141.26 L329.21,140.99 L329.58,140.73 L329.95,140.46 L330.32,140.19 L330.69,139.93 L331.06,139.66 L331.43,139.39 L331.80,139.13 L332.17,138.86 L332.55,138.60 L332.92,138.33 L333.29,138.07 L333.66,137.80 L334.03,137.54 L334.40,137.28 L334.77,137.01 L335.14,136.75 L335.51,136.49 L335.88,136.22 L336.25,135.96 L336.62,135.70 L336.99,135.44 L337.36,135.18 L337.73,134.91 L338.10,134.65 L338.47,134.39 L338.84,134.13 L339.21,133.87 L339.58,133.61 L339.95,133.35 L340.32,133.10 L340.69,132.84 L341.06,132.58 L341.43,132.32 L341.80,132.06 L342.17,131.81 L342.54,131.55 L342.91,131.29 L343.28,131.03 L343.65,130.78 L344.02,130.52 L344.39,130.27 L344.77,130.01 L345.14,129.76 L345.51,129.50 L345.88,129.25 L346.25,128.99 L346.62,128.74 L346.99,128.49 L347.36,128.23 L347.73,127.98 L348.10,127.73 L348.47,127.47 L348.84,127.22 L349.21,126.97 L349.58,126.72 L349.95,126.47 L350.32,126.22 L350.69,125.97 L351.06,125.71 L351.43,125.46 L351.80,125.21 L352.17,124.97 L352.54,124.72 L352.91,124.47 L353.28,124.22 L353.65,123.97 L354.02,123.72 L354.39,123.47 L354.76,123.23 L355.13,122.98 L355.50,122.73 L355.87,122.48 L356.24,122.24 L356.61,121.99 L356.98,121.74 L357.36,121.50 L357.73,121.25 L358.10,121.01 L358.47,120.76 L358.84,120.52 L359.21,120.27 L359.58,120.03 L359.95,119.78 L360.32,119.54 L360.69,119.29 L361.06,119.05 L361.43,118.80 L361.80,118.56 L362.17,118.32 L362.54,118.07 L362.91,117.83 L363.28,117.59 L363.65,117.35 L364.02,117.10 L364.39,116.86 L364.76,116.62 L365.13,116.38 L365.50,116.13 L365.87,115.89 L366.24,115.65 L366.61,115.41 L366.98,115.17 L367.35,114.93 L367.72,114.69 L368.09,114.44 L368.46,114.20 L368.83,113.96 L369.20,113.72 L369.58,113.48 L369.95,113.24 L370.32,113.00 L370.69,112.76 L371.06,112.52 L371.43,112.28 L371.80,112.04 L372.17,111.80 L372.54,111.56 L372.91,111.32 L373.28,111.08 L373.65,110.84 L374.02,110.60 L374.39,110.36 L374.76,110.12 L375.13,109.88 L375.50,109.64" stroke="#808080" stroke-dasharray="6.6 2.8" stroke-dashoffset="2.4"/>
<path d="M252.19,182.16 L252.56,182.07 L252.93,181.97 L253.30,181.87 L253.67,181.76 L254.04,181.66 L254.41,181.56 L254.78,181.45 L255.15,181.35 L255.52,181.24 L255.89,181.13 L256.26,181.02 L256.63,180.91 L257.00,180.80 L257.37,180.68 L257.74,180.57 L258.11,180.45 L258.48,180.33 L258.86,180.22 L259.23,180.09 L259.60,179.97 L259.97,179.85 L260.34,179.72 L260.71,179.60 L261.08,179.47 L261.45,179.34 L261.82,179.21 L262.19,179.07 L262.56,178.94 L262.93,178.80 L263.30,178.66 L263.67,178.52 L264.04,178.37 L264.41,178.23 L264.78,178.08 L265.15,177.93 L265.52,177.78 L265.89,177.62 L266.26,177.47 L266.63,177.31 L267.00,177.15 L267.37,176.98 L267.74,176.82 L268.11,176.65 L268.48,176.48 L268.85,176.31 L269.22,176.13 L269.59,175.96 L269.96,175.78 L270.33,175.60 L270.70,175.42 L271.08,175.23 L271.45,175.05 L271.82,174.86 L272.19,174.67 L272.56,174.47 L272.93,174.28 L273.30,174.08 L273.67,173.89 L274.04,173.69 L274.41,173.49 L274.78,173.29 L275.15,173.09 L275.52,172.88 L275.89,172.68 L276.26,172.48 L276.63,172.27 L277.00,172.06 L277.37,171.86 L277.74,171.65 L278.11,171.43 L278.48,171.22 L278.85,171.01 L279.22,170.79 L279.59,170.57 L279.96,170.36 L280.33,170.14 L280.70,169.91 L281.07,169.69 L281.44,169.47 L281.81,169.24 L282.18,169.02 L282.55,168.79 L282.92,168.56 L283.30,168.33 L283.67,168.10 L284.04,167.87 L284.41,167.63 L284.78,167.40 L285.15,167.16 L285.52,166.92 L285.89,166.68 L286.26,166.44 L286.63,166.20 L287.00,165.96 L287.37,165.72 L287.74,165.47 L288.11,165.23 L288.48,164.98 L288.85,164.74 L289.22,164.49 L289.59,164.24 L289.96,163.99 L290.33,163.74 L290.70,163.48 L291.07,163.23 L291.44,162.98 L291.81,162.72 L292.18,162.47 L292.55,162.21 L292.92,161.95 L293.29,161.70 L293.66,161.44 L294.03,161.18 L294.40,160.92 L294.77,160.66 L295.14,160.40 L295.52,160.13 L295.89,159.87 L296.26,159.61 L296.63,159.34 L297.00,159.08 L297.37,158.81 L297.74,158.55 L298.11,158.28 L298.48,158.01 L298.85,157.75 L299.22,157.48 L299.59,157.21 L299.96,156.94 L300.33,156.67 L300.70,156.40 L301.07,156.13 L301.44,155.86 L301.81,155.59 L302.18,155.32 L302.55,155.05 L302.92,154.78 L303.29,154.51 L303.66,154.23 L304.03,153.96 L304.40,153.69 L304.77,153.41 L305.14,153.14 L305.51,152.86 L305.88,152.59 L306.25,152.31 L306.62,152.04 L306.99,151.76 L307.36,151.49 L307.73,151.21 L308.11,150.93 L308.48,150.66 L308.85,150.38 L309.22,150.10 L309.59,149.82 L309.96,149.55 L310.33,149.27 L310.70,148.99 L311.07,148.71 L311.44,148.43 L311.81,148.15 L312.18,147.87 L312.55,147.59 L312.92,147.31 L313.29,147.03 L313.66,146.75 L314.03,146.47 L314.40,146.19 L314.77,145.91 L315.14,145.63 L315.51,145.35 L315.88,145.07 L316.25,144.79 L316.62,144.50 L316.99,144.22 L317.36,143.94 L317.73,143.66 L318.10,143.38 L318.47,143.10 L318.84,142.81 L319.21,142.53 L319.58,142.25 L319.95,141.97 L320.33,141.68 L320.70,141.40 L321.07,141.12 L321.44,140.83 L321.81,140.55 L322.18,140.27 L322.55,139.98 L322.92,139.70 L323.29,139.42 L323.66,139.14 L324.03,138.85 L324.40,138.57 L324.77,138.28 L325.14,138.00 L325.51,137.72 L325.88,137.43 L326.25,137.15 L326.62,136.87 L326.99,136.58 L327.36,136.30 L327.73,136.02 L328.10,135.73 L328.47,135.45 L328.84,135.17 L329.21,134.88 L329.58,134.60 L329.95,134.31 L330.32,134.03 L330.69,133.75 L331.06,133.46 L331.43,133.18 L331.80,132.90 L332.17,132.61 L332.55,132.33 L332.92,132.05 L333.29,131.76 L333.66,131.48 L334.03,131.20 L334.40,130.91 L334.77,130.63 L335.14,130.35 L335.51,130.06 L335.88,129.78 L336.25,129.50 L336.62,129.22 L336.99,128.93 L337.36,128.65 L337.73,128.37 L338.10,128.09 L338.47,127.80 L338.84,127.52 L339.21,127.24 L339.58,126.96 L339.95,126.67 L340.32,126.39 L340.69,126.11 L341.06,125.83 L341.43,125.55 L341.80,125.26 L342.17,124.98 L342.54,124.70 L342.91,124.42 L343.28,124.14 L343.65,123.86 L344.02,123.58 L344.39,123.29 L344.77,123.01 L345.14,122.73 L345.51,122.45 L345.88,122.17 L346.25,121.89 L346.62,121.61 L346.99,121.33 L347.36,121.05 L347.73,120.77 L348.10,120.49 L348.47,120.21 L348.84,119.93 L349.21,119.65 L349.58,119.37 L349.95,119.09 L350.32,118.81 L350.69,118.53 L351.06,118.25 L351.43,117.98 L351.80,117.70 L352.17,117.42 L352.54,117.14 L352.91,116.86 L353.28,116.58 L353.65,116.30 L354.02,116.03 L354.39,115.75 L354.76,115.47 L355.13,115.19 L355.50,114.91 L355.87,114.64 L356.24,114.36 L356.61,114.08 L356.98,113.80 L357.36,113.53 L357.73,113.25 L358.10,112.97 L358.47,112.70 L358.84,112.42 L359.21,112.14 L359.58,111.87 L359.95,111.59 L360.32,111.31 L360.69,111.04 L361.06,110.76 L361.43,110.49 L361.80,110.21 L362.17,109.94 L362.54,109.66 L362.91,109.38 L363.28,109.11 L363.65,108.83 L364.02,108.56 L364.39,108.28 L364.76,108.01 L365.13,107.73 L365.50,107.46 L365.87,107.19 L366.24,106.91 L366.61,106.64 L366.98,106.36 L367.35,106.09 L367.72,105.81 L368.09,105.54 L368.46,105.27 L368.83,104.99 L369.20,104.72 L369.58,104.45 L369.95,104.17 L370.32,103.90 L370.69,103.62 L371.06,103.35 L371.43,103.08 L371.80,102.81 L372.17,102.53 L372.54,102.26 L372.91,101.99 L373.28,101.71 L373.65,101.44 L374.02,101.17 L374.39,100.90 L374.76,100.62 L375.13,100.35 L375.50,100.08" stroke="#00a000"/>
<path d="M252.19,182.15 L252.56,182.05 L252.93,181.95 L253.30,181.84 L253.67,181.74 L254.04,181.63 L254.41,181.52 L254.78,181.41 L255.15,181.29 L255.52,181.18 L255.89,181.06 L256.26,180.94 L256.63,180.82 L257.00,180.70 L257.37,180.57 L257.74,180.45 L258.11,180.32 L258.48,180.19 L258.86,180.06 L259.23,179.93 L259.60,179.79 L259.97,179.66 L260.34,179.52 L260.71,179.38 L261.08,179.24 L261.45,179.09 L261.82,178.95 L262.19,178.80 L262.56,178.65 L262.93,178.50 L263.30,178.35 L263.67,178.19 L264.04,178.04 L264.41,177.88 L264.78,177.72 L265.15,177.56 L265.52,177.40 L265.89,177.24 L266.26,177.07 L266.63,176.90 L267.00,176.74 L267.37,176.57 L267.74,176.40 L268.11,176.22 L268.48,176.05 L268.85,175.88 L269.22,175.70 L269.59,175.52 L269.96,175.34 L270.33,175.16 L270.70,174.98 L271.08,174.80 L271.45,174.62 L271.82,174.44 L272.19,174.25 L272.56,174.07 L272.93,173.88 L273.30,173.70 L273.67,173.51 L274.04,173.33 L274.41,173.14 L274.78,172.95 L275.15,172.77 L275.52,172.58 L275.89,172.39 L276.26,172.21 L276.63,172.02 L277.00,171.83 L277.37,171.64 L277.74,171.45 L278.11,171.26 L278.48,171.06 L278.85,170.87 L279.22,170.68 L279.59,170.48 L279.96,170.28 L280.33,170.09 L280.70,169.89 L281.07,169.69 L281.44,169.49 L281.81,169.29 L282.18,169.08 L282.55,168.88 L282.92,168.68 L283.30,168.47 L283.67,168.27 L284.04,168.06 L284.41,167.85 L284.78,167.64 L285.15,167.43 L285.52,167.22 L285.89,167.01 L286.26,166.80 L286.63,166.59 L287.00,166.37 L287.37,166.16 L287.74,165.94 L288.11,165.72 L288.48,165.51 L288.85,165.29 L289.22,165.07 L289.59,164.85 L289.96,164.63 L290.33,164.41 L290.70,164.19 L291.07,163.96 L291.44,163.74 L291.81,163.52 L292.18,163.29 L292.55,163.06 L292.92,162.84 L293.29,162.61 L293.66,162.38 L294.03,162.15 L294.40,161.92 L294.77,161.69 L295.14,161.46 L295.52,161.23 L295.89,161.00 L296.26,160.76 L296.63,160.53 L297.00,160.30 L297.37,160.06 L297.74,159.82 L298.11,159.59 L298.48,159.35 L298.85,159.11 L299.22,158.87 L299.59,158.63 L299.96,158.39 L300.33,158.15 L300.70,157.91 L301.07,157.67 L301.44,157.43 L301.81,157.19 L302.18,156.94 L302.55,156.70 L302.92,156.45 L303.29,156.21 L303.66,155.96 L304.03,155.72 L304.40,155.47 L304.77,155.22 L305.14,154.97 L305.51,154.72 L305.88,154.47 L306.25,154.22 L306.62,153.97 L306.99,153.72 L307.36,153.47 L307.73,153.22 L308.11,152.97 L308.48,152.72 L308.85,152.46 L309.22,152.21 L309.59,151.95 L309.96,151.70 L310.33,151.44 L310.70,151.19 L311.07,150.93 L311.44,150.68 L311.81,150.42 L312.18,150.16 L312.55,149.90 L312.92,149.65 L313.29,149.39 L313.66,149.13 L314.03,148.87 L314.40,148.61 L314.77,148.35 L315.14,148.09 L315.51,147.83 L315.88,147.57 L316.25,147.30 L316.62,147.04 L316.99,146.78 L317.36,146.52 L317.73,146.25 L318.10,145.99 L318.47,145.73 L318.84,145.46 L319.21,145.20 L319.58,144.93 L319.95,144.67 L320.33,144.40 L320.70,144.14 L321.07,143.87 L321.44,143.61 L321.81,143.34 L322.18,143.07 L322.55,142.80 L322.92,142.54 L323.29,142.27 L323.66,142.00 L324.03,141.73 L324.40,141.47 L324.77,141.20 L325.14,140.93 L325.51,140.66 L325.88,140.39 L326.25,140.12 L326.62,139.85 L326.99,139.58 L327.36,139.31 L327.73,139.04 L328.10,138.77 L328.47,138.50 L328.84,138.23 L329.21,137.96 L329.58,137.69 L329.95,137.42 L330.32,137.15 L330.69,136.88 L331.06,136.61 L331.43,136.33 L331.80,136.06 L332.17,135.79 L332.55,135.52 L332.92,135.25 L333.29,134.98 L333.66,134.70 L334.03,134.43 L334.40,134.16 L334.77,133.89 L335.14,133.61 L335.51,133.34 L335.88,133.07 L336.25,132.80 L336.62,132.53 L336.99,132.25 L337.36,131.98 L337.73,131.71 L338.10,131.44 L338.47,131.16 L338.84,130.89 L339.21,130.62 L339.58,130.34 L339.95,130.07 L340.32,129.80 L340.69,129.53 L341.06,129.26 L341.43,128.98 L341.80,128.71 L342.17,128.44 L342.54,128.17 L342.91,127.89 L343.28,127.62 L343.65,127.35 L344.02,127.08 L344.39,126.81 L344.77,126.53 L345.14,126.26 L345.51,125.99 L345.88,125.72 L346.25,125.45 L346.62,125.18 L346.99,124.91 L347.36,124.63 L347.73,124.36 L348.10,124.09 L348.47,123.82 L348.84,123.55 L349.21,123.28 L349.58,123.01 L349.95,122.74 L350.32,122.47 L350.69,122.20 L351.06,121.93 L351.43,121.67 L351.80,121.40 L352.17,121.13 L352.54,120.86 L352.91,120.59 L353.28,120.32 L353.65,120.05 L354.02,119.79 L354.39,119.52 L354.76,119.25 L355.13,118.99 L355.50,118.72 L355.87,118.45 L356.24,118.19 L356.61,117.92 L356.98,117.66 L357.36,117.39 L357.73,117.13 L358.10,116.86 L358.47,116.60 L358.84,116.33 L359.21,116.07 L359.58,115.81 L359.95,115.54 L360.32,115.28 L360.69,115.02 L361.06,114.76 L361.43,114.49 L361.80,114.23 L362.17,113.97 L362.54,113.71 L362.91,113.45 L363.28,113.19 L363.65,112.93 L364.02,112.67 L364.39,112.41 L364.76,112.15 L365.13,111.90 L365.50,111.64 L365.87,111.38 L366.24,111.13 L366.61,110.87 L366.98,110.61 L367.35,110.36 L367.72,110.10 L368.09,109.85 L368.46,109.59 L368.83,109.34 L369.20,109.09 L369.58,108.83 L369.95,108.58 L370.32,108.33 L370.69,108.08 L371.06,107.83 L371.43,107.58 L371.80,107.33 L372.17,107.08 L372.54,106.83 L372.91,106.58 L373.28,106.33 L373.65,106.08 L374.02,105.84 L374.39,105.59 L374.76,105.35 L375.13,105.10 L375.50,104.86" stroke="#0000ff"/>
<path d="M227.75,185.60 L228.12,185.60 L228.49,185.60 L228.86,185.59 L229.23,185.59 L229.60,185.58 L229.97,185.57 L230.34,185.56 L230.71,185.55 L231.08,185.53 L231.45,185.51 L231.82,185.50 L232.19,185.48 L232.56,185.46 L232.93,185.43 L233.30,185.41 L233.67,185.38 L234.05,185.36 L234.42,185.33 L234.79,185.30 L235.16,185.26 L235.53,185.23 L235.90,185.19 L236.27,185.16 L236.64,185.12 L237.01,185.08 L237.38,185.04 L237.75,184.99 L238.12,184.95 L238.49,184.90 L238.86,184.85 L239.23,184.80 L239.60,184.75 L239.97,184.70 L240.34,184.65 L240.71,184.59 L241.08,184.53 L241.45,184.47 L241.82,184.41 L242.19,184.35 L242.56,184.29 L242.93,184.23 L243.30,184.16 L243.67,184.09 L244.04,184.02 L244.41,183.95 L244.78,183.88 L245.15,183.81 L245.52,183.73 L245.89,183.66 L246.27,183.58 L246.64,183.50 L247.01,183.42 L247.38,183.34 L247.75,183.26 L248.12,183.17 L248.49,183.09 L248.86,183.00 L249.23,182.91 L249.60,182.82 L249.97,182.73 L250.34,182.64 L250.71,182.55 L251.08,182.45 L251.45,182.36 L251.82,182.26 L252.19,182.16 L252.56,182.06 L252.93,181.96 L253.30,181.86 L253.67,181.75 L254.04,181.65 L254.41,181.54 L254.78,181.43 L255.15,181.32 L255.52,181.21 L255.89,181.10 L256.26,180.99 L256.63,180.88 L257.00,180.76 L257.37,180.65 L257.74,180.53 L258.11,180.41 L258.48,180.29 L258.86,180.17 L259.23,180.05 L259.60,179.92 L259.97,179.80 L260.34,179.67 L260.71,179.55 L261.08,179.42 L261.45,179.29 L261.82,179.16 L262.19,179.03 L262.56,178.90 L262.93,178.77 L263.30,178.63 L263.67,178.50 L264.04,178.36 L264.41,178.22 L264.78,178.08 L265.15,177.94 L265.52,177.80 L265.89,177.66 L266.26,177.52 L266.63,177.37 L267.00,177.23 L267.37,177.08 L267.74,176.94 L268.11,176.79 L268.48,176.64 L268.85,176.49 L269.22,176.34 L269.59,176.19 L269.96,176.03 L270.33,175.88 L270.70,175.73 L271.08,175.57 L271.45,175.41 L271.82,175.26 L272.19,175.10 L272.56,174.94 L272.93,174.78 L273.30,174.62 L273.67,174.45 L274.04,174.29 L274.41,174.13 L274.78,173.96 L275.15,173.80 L275.52,173.63 L275.89,173.46 L276.26,173.29 L276.63,173.12 L277.00,172.95 L277.37,172.78 L277.74,172.61 L278.11,172.44 L278.48,172.27 L278.85,172.09 L279.22,171.92 L279.59,171.74 L279.96,171.56 L280.33,171.39 L280.70,171.21 L281.07,171.03 L281.44,170.85 L281.81,170.67 L282.18,170.49 L282.55,170.31 L282.92,170.12 L283.30,169.94 L283.67,169.76 L284.04,169.57 L284.41,169.39 L284.78,169.20 L285.15,169.01 L285.52,168.83 L285.89,168.64 L286.26,168.45 L286.63,168.26 L287.00,168.07 L287.37,167.88 L287.74,167.69 L288.11,167.49 L288.48,167.30 L288.85,167.11 L289.22,166.91 L289.59,166.72 L289.96,166.52 L290.33,166.33 L290.70,166.13 L291.07,165.93 L291.44,165.73 L291.81,165.54 L292.18,165.34 L292.55,165.14 L292.92,164.94 L293.29,164.74 L293.66,164.53 L294.03,164.33 L294.40,164.13 L294.77,163.93 L295.14,163.72 L295.52,163.52 L295.89,163.32 L296.26,163.11 L296.63,162.90 L297.00,162.70 L297.37,162.49 L297.74,162.29 L298.11,162.08 L298.48,161.87 L298.85,161.66 L299.22,161.45 L299.59,161.24 L299.96,161.03 L300.33,160.82 L300.70,160.61 L301.07,160.40 L301.44,160.19 L301.81,159.98 L302.18,159.77 L302.55,159.55 L302.92,159.34 L303.29,159.13 L303.66,158.91 L304.03,158.70 L304.40,158.48 L304.77,158.27 L305.14,158.05 L305.51,157.84 L305.88,157.62 L306.25,157.40 L306.62,157.19 L306.99,156.97 L307.36,156.75 L307.73,156.53 L308.11,156.31 L308.48,156.09 L308.85,155.88 L309.22,155.66 L309.59,155.44 L309.96,155.22 L310.33,155.00 L310.70,154.77 L311.07,154.55 L311.44,154.33 L311.81,154.11 L312.18,153.89 L312.55,153.67 L312.92,153.44 L313.29,153.22 L313.66,153.00 L314.03,152.78 L314.40,152.55 L314.77,152.33 L315.14,152.10 L315.51,151.88 L315.88,151.65 L316.25,151.43 L316.62,151.20 L316.99,150.98 L317.36,150.75 L317.73,150.53 L318.10,150.30 L318.47,150.08 L318.84,149.85 L319.21,149.62 L319.58,149.40 L319.95,149.17 L320.33,148.94 L320.70,148.71 L321.07,148.49 L321.44,148.26 L321.81,148.03 L322.18,147.80 L322.55,147.57 L322.92,147.35 L323.29,147.12 L323.66,146.89 L324.03,146.66 L324.40,146.43 L324.77,146.20 L325.14,145.97 L325.51,145.74 L325.88,145.51 L326.25,145.28 L326.62,145.05 L326.99,144.82 L327.36,144.59 L327.73,144.36 L328.10,144.13 L328.47,143.90 L328.84,143.67 L329.21,143.44 L329.58,143.21 L329.95,142.98 L330.32,142.75 L330.69,142.52 L331.06,142.28 L331.43,142.05 L331.80,141.82 L332.17,141.59 L332.55,141.36 L332.92,141.13 L333.29,140.90 L333.66,140.66 L334.03,140.43 L334.40,140.20 L334.77,139.97 L335.14,139.74 L335.51,139.51 L335.88,139.27 L336.25,139.04 L336.62,138.81 L336.99,138.58 L337.36,138.34 L337.73,138.11 L338.10,137.88 L338.47,137.65 L338.84,137.42 L339.21,137.18 L339.58,136.95 L339.95,136.72 L340.32,136.49 L340.69,136.26 L341.06,136.02 L341.43,135.79 L341.80,135.56 L342.17,135.33 L342.54,135.09 L342.91,134.86 L343.28,134.63 L343.65,134.40 L344.02,134.17 L344.39,133.93 L344.77,133.70 L345.14,133.47 L345.51,133.24 L345.88,133.01 L346.25,132.77 L346.62,132.54 L346.99,132.31 L347.36,132.08 L347.73,131.85 L348.10,131.62 L348.47,131.38 L348.84,131.15 L349.21,130.92 L349.58,130.69 L349.95,130.46 L350.32,130.23 L350.69,130.00 L351.06,129.77 L351.43,129.54 L351.80,129.30 L352.17,129.07 L352.54,128.84 L352.91,128.61 L353.28,128.38 L353.65,128.15 L354.02,127.92 L354.39,127.69 L354.76,127.46 L355.13,127.23 L355.50,127.00 L355.87,126.77 L356.24,126.54 L356.61,126.31 L356.98,126.08 L357.36,125.86 L357.73,125.63 L358.10,125.40 L358.47,125.17 L358.84,124.94 L359.21,124.71 L359.58,124.48 L359.95,124.26 L360.32,124.03 L360.69,123.80 L361.06,123.57 L361.43,123.34 L361.80,123.12 L362.17,122.89 L362.54,122.66 L362.91,122.44 L363.28,122.21 L363.65,121.98 L364.02,121.76 L364.39,121.53 L364.76,121.30 L365.13,121.08 L365.50,120.85 L365.87,120.63 L366.24,120.40 L366.61,120.18 L366.98,119.95 L367.35,119.73 L367.72,119.50 L368.09,119.28 L368.46,119.05 L368.83,118.83 L369.20,118.60 L369.58,118.38 L369.95,118.16 L370.32,117.93 L370.69,117.71 L371.06,117.49 L371.43,117.26 L371.80,117.04 L372.17,116.82 L372.54,116.60 L372.91,116.38 L373.28,116.15 L373.65,115.93 L374.02,115.71 L374.39,115.49 L374.76,115.27 L375.13,115.05 L375.50,114.83" stroke="#ff0000"/>
</g>
<g font-family="Liberation Sans, sans-serif" font-size="11.8" fill="#000" stroke="#000" stroke-width="0.12" text-rendering="geometricPrecision">
<text x="45.9" y="211.10" text-anchor="end">0.00</text>
<text x="45.9" y="158.35" text-anchor="end">0.05</text>
<text x="45.9" y="105.60" text-anchor="end">0.10</text>
<text x="45.9" y="52.85" text-anchor="end">0.15</text>
<text x="56.25" y="231.85" text-anchor="middle">0.0</text>
<text x="122.38" y="231.85" text-anchor="middle">0.2</text>
<text x="188.51" y="231.85" text-anchor="middle">0.4</text>
<text x="254.64" y="231.85" text-anchor="middle">0.6</text>
<text x="320.77" y="231.85" text-anchor="middle">0.8</text>
<text x="386.90" y="231.85" text-anchor="middle">1.0</text>
<text x="222.10000000000002" y="189.45" text-anchor="end">0.00</text>
<text x="222.10000000000002" y="173.25" text-anchor="end">0.01</text>
<text x="222.10000000000002" y="157.05" text-anchor="end">0.02</text>
<text x="222.10000000000002" y="140.85" text-anchor="end">0.03</text>
<text x="222.10000000000002" y="124.65" text-anchor="end">0.04</text>
<text x="222.10000000000002" y="108.45" text-anchor="end">0.05</text>
<text x="228.20" y="204.7" text-anchor="middle">0.00</text>
<text x="266.10" y="204.7" text-anchor="middle">0.04</text>
<text x="304.00" y="204.7" text-anchor="middle">0.08</text>
<text x="341.90" y="204.7" text-anchor="middle">0.12</text>
</g>
<g font-family="Liberation Serif, serif" font-size="14" fill="#000">
<text transform="translate(221.5,253.7) scale(1.08,1)" font-size="13.6" text-anchor="middle" font-style="italic">T</text>
<text transform="translate(12.6,130.9) rotate(-90)" letter-spacing="0.2"><tspan font-style="italic">u</tspan>- <tspan font-style="italic">u</tspan>(0)</text>
</g>
</svg>
</body></html>
